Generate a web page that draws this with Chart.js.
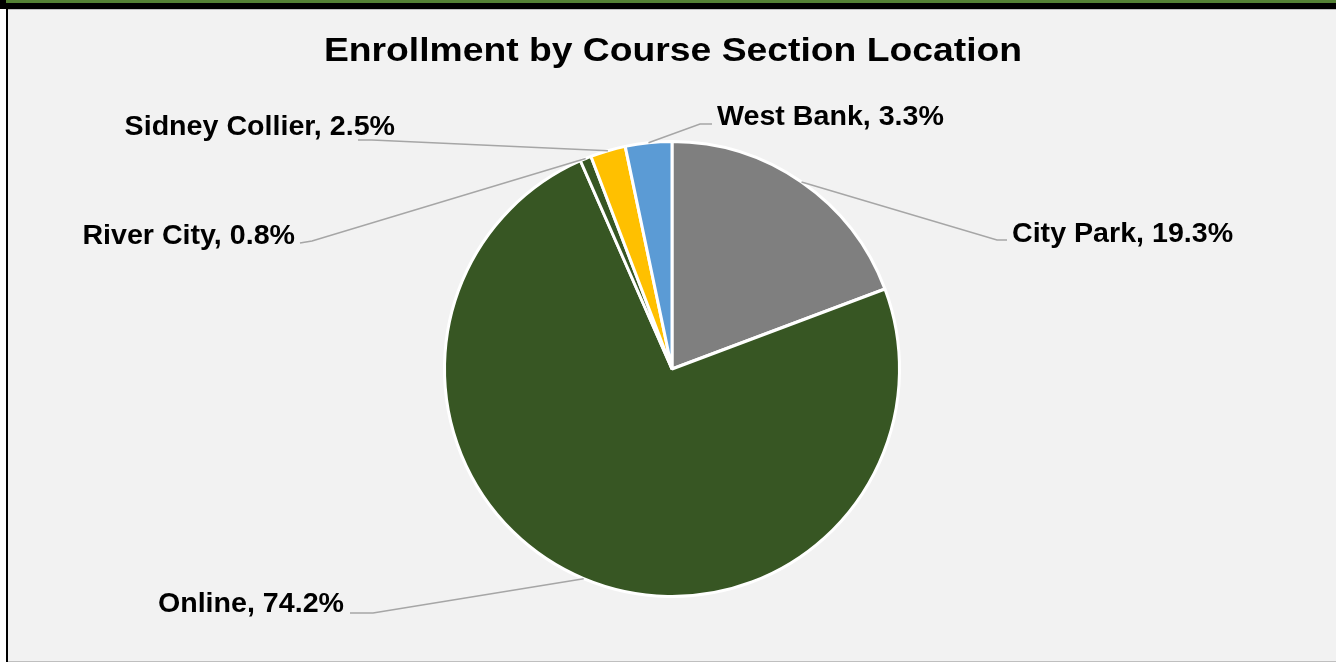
<!DOCTYPE html>
<html>
<head>
<meta charset="utf-8">
<script src="https://cdn.jsdelivr.net/npm/chart.js@4.4.1/dist/chart.umd.min.js"></script>
<style>
  html, body { margin: 0; padding: 0; background: #ffffff; width: 1336px; height: 662px; overflow: hidden; }
  #topGreen { position: absolute; left: 6px; top: 0; width: 1330px; height: 3px; background: #548235; }
  #topBlackCorner { position: absolute; left: 0; top: 0; width: 6px; height: 3px; background: #000; }
  #topBlack { position: absolute; left: 0; top: 3px; width: 1336px; height: 6px; background: #000; }
  #leftBlack { position: absolute; left: 6px; top: 9px; width: 2px; height: 653px; background: #000; }
  #panel { position: absolute; left: 8px; top: 9px; width: 1328px; height: 653px; background: #f2f2f2;
           border-top: 1px solid #bfbfbf; border-bottom: 1px solid #bfbfbf; box-sizing: border-box; }
  #c { position: absolute; left: 8px; top: 10px; }
</style>
</head>
<body>
<div id="topGreen"></div>
<div id="topBlackCorner"></div>
<div id="topBlack"></div>
<div id="leftBlack"></div>
<div id="panel"></div>
<canvas id="c" width="1328" height="651"></canvas>
<script>
// ---- data ----
const titleText = "Enrollment by Course Section Location";
const categories = ["City Park", "Online", "River City", "Sidney Collier", "West Bank"];
const percents = [19.3, 74.2, 0.8, 2.5, 3.3];
const sliceColors = ["#7f7f7f", "#375623", "#375623", "#ffc000", "#5b9bd5"];

// label layout: offsets from pie centre (px) for leader elbow/end and text anchor
const labelLayout = [
  { elbow: [325, -129], end: [335, -129], text: [340, -127], align: "left" },   // City Park
  { elbow: [-299, 244], end: [-322, 244], text: [-328, 243], align: "right" },  // Online
  { elbow: [-360, -128], end: [-372, -126], text: [-377, -125], align: "right" },// River City
  { elbow: [-300, -229], end: [-314, -229], text: [-277, -234], align: "right" },// Sidney Collier
  { elbow: [28, -245], end: [40, -245], text: [45, -244], align: "left" }       // West Bank
];

const FONT = "'Liberation Sans', Arial, Helvetica, sans-serif";

function drawStretched(ctx, txt, x, y, align, size, sx) {
  ctx.save();
  ctx.font = "bold " + size + "px " + FONT;
  ctx.textBaseline = "alphabetic";
  const w = ctx.measureText(txt).width * sx;
  let left = x;
  if (align === "right") left = x - w;
  else if (align === "center") left = x - w / 2;
  ctx.translate(left, y);
  ctx.scale(sx, 1);
  ctx.textAlign = "left";
  ctx.fillStyle = "#000000";
  ctx.fillText(txt, 0, 0);
  ctx.restore();
}

const labelPlugin = {
  id: "labelPlugin",
  afterDraw(chart) {
    const ctx = chart.ctx;
    const meta = chart.getDatasetMeta(0);
    // title
    drawStretched(ctx, titleText, chart.width / 2 + 1, 51, "center", 33, 1.13);
    meta.data.forEach((arc, i) => {
      const p = arc.getProps(["x", "y", "startAngle", "endAngle", "outerRadius"], true);
      const mid = (p.startAngle + p.endAngle) / 2;
      const ax = p.x + Math.cos(mid) * p.outerRadius;
      const ay = p.y + Math.sin(mid) * p.outerRadius;
      const L = labelLayout[i];
      ctx.save();
      ctx.strokeStyle = "#a6a6a6";
      ctx.lineWidth = 1.5;
      ctx.beginPath();
      ctx.moveTo(ax, ay);
      ctx.lineTo(p.x + L.elbow[0], p.y + L.elbow[1]);
      ctx.lineTo(p.x + L.end[0], p.y + L.end[1]);
      ctx.stroke();
      ctx.restore();
      const txt = categories[i] + ", " + percents[i].toFixed(1) + "%";
      drawStretched(ctx, txt, p.x + L.text[0], p.y + L.text[1], L.align, 27, 1.06);
    });
  }
};

new Chart(document.getElementById("c"), {
  type: "pie",
  data: {
    labels: categories,
    datasets: [{
      data: percents,
      backgroundColor: sliceColors,
      borderColor: "#ffffff",
      borderWidth: 3
    }]
  },
  options: {
    responsive: false,
    animation: false,
    devicePixelRatio: 1,
    layout: { padding: { top: 130, bottom: 63, left: 0, right: 0 } },
    plugins: {
      legend: { display: false },
      title: { display: false },
      tooltip: { enabled: false }
    }
  },
  plugins: [labelPlugin]
});
</script>
</body>
</html>
